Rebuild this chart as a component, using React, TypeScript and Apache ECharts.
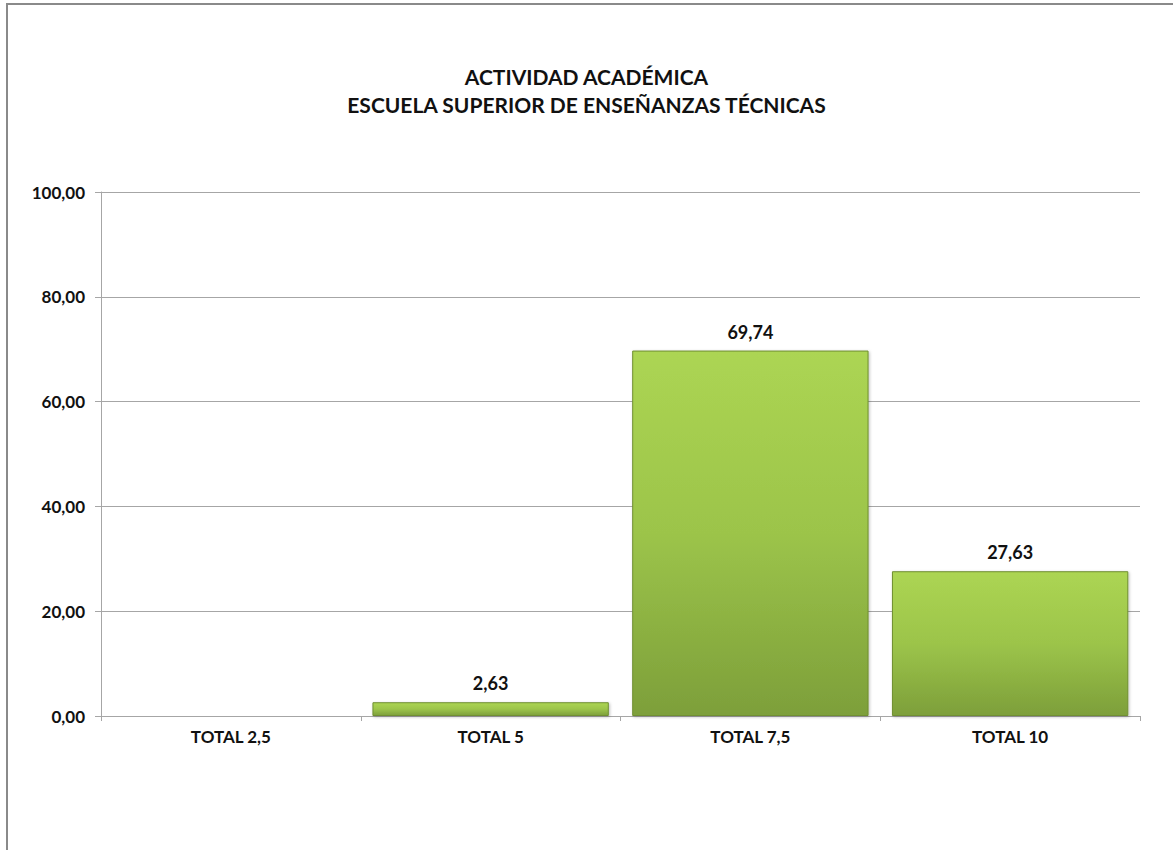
import React, { useEffect, useRef } from "react";
import * as echarts from "echarts";

const titleLines = ["ACTIVIDAD ACADÉMICA", "ESCUELA SUPERIOR DE ENSEÑANZAS TÉCNICAS"];
const categories = ["TOTAL 2,5", "TOTAL 5", "TOTAL 7,5", "TOTAL 10"];
const values = [0, 2.63, 69.74, 27.63];
const yMin = 0;
const yMax = 100;
const yInterval = 20;

const FONT = "Lato, 'Open Sans', sans-serif";

export default function App() {
  const ref = useRef<HTMLDivElement>(null);
  useEffect(() => {
    if (!ref.current) return;
    const chart = echarts.init(ref.current, null, { renderer: "svg" });
    const fmt = (v: number) => v.toFixed(2).replace(".", ",");
    chart.setOption({
      animation: false,
      backgroundColor: "#ffffff",
      title: {
        text: titleLines.join("\n"),
        left: "center",
        top: 57,
        textStyle: {
          fontFamily: FONT,
          fontSize: 21,
          fontWeight: "bold",
          color: "#111",
          lineHeight: 28,
        },
      },
      graphic: [
        {
          type: "rect",
          shape: { x: 7, y: 4, width: 1300, height: 1000 },
          style: { fill: "none", stroke: "#8a8a8a", lineWidth: 2 },
          silent: true,
        },
      ],
      grid: { left: 101, right: 33, top: 192, bottom: 134 },
      xAxis: {
        type: "category",
        data: categories,
        axisLine: { show: true, lineStyle: { color: "#a6a6a6", width: 1 } },
        axisTick: { show: true, length: 5, lineStyle: { color: "#a6a6a6" } },
        axisLabel: {
          fontFamily: FONT,
          fontSize: 17,
          fontWeight: "bold",
          color: "#111",
          margin: 12,
        },
      },
      yAxis: {
        type: "value",
        min: yMin,
        max: yMax,
        interval: yInterval,
        axisLine: { show: true, lineStyle: { color: "#a6a6a6", width: 1 } },
        axisTick: { show: true, length: 6, lineStyle: { color: "#a6a6a6" } },
        splitLine: { show: true, lineStyle: { color: "#a6a6a6", width: 1 } },
        axisLabel: {
          formatter: (v: number) => fmt(v),
          fontFamily: FONT,
          fontSize: 17,
          fontWeight: "bold",
          color: "#111",
          margin: 16,
        },
      },
      series: [
        {
          type: "bar",
          data: values.map((v) => (v === 0 ? null : v)),
          barWidth: "91%",
          itemStyle: {
            color: new echarts.graphic.LinearGradient(0, 0, 0, 1, [
              { offset: 0, color: "#acd553" },
              { offset: 0.5, color: "#9cc44a" },
              { offset: 1, color: "#7d9f3a" },
            ]),
            borderColor: "#6f8f30",
            borderWidth: 1,
            shadowColor: "rgba(0,0,0,0.25)",
            shadowBlur: 3,
            shadowOffsetX: 1,
            shadowOffsetY: 1,
          },
          label: {
            show: true,
            position: "top",
            distance: 10,
            formatter: (p: any) => fmt(p.value),
            fontFamily: FONT,
            fontSize: 18,
            fontWeight: "bold",
            color: "#111",
          },
        },
      ],
    });
    return () => chart.dispose();
  }, []);
  return (
    <div
      ref={ref}
      style={{ position: "fixed", left: 0, top: 0, width: 1173, height: 850 }}
    />
  );
}
